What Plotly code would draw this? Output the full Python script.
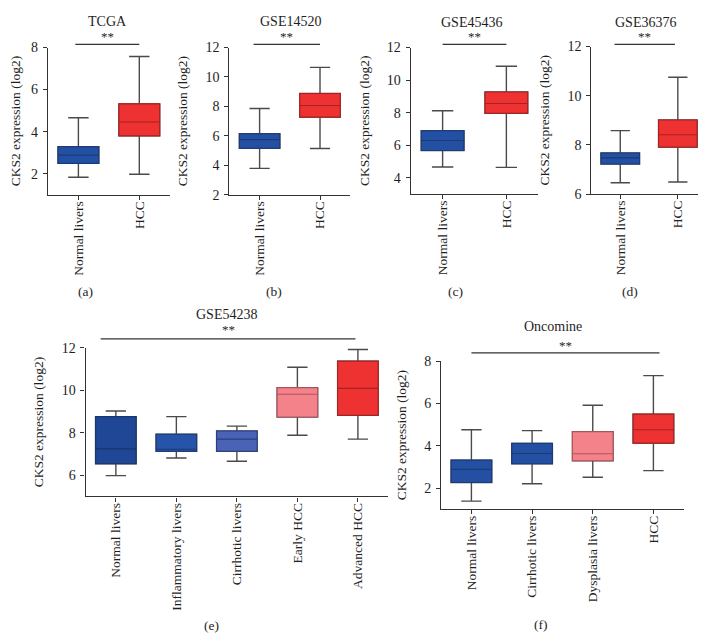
import plotly.graph_objects as go

W, H = 706, 643
FONT = "Liberation Serif"

# ---------------- data ----------------
tcga_groups = ["Normal livers", "HCC"]
tcga_low = [1.83, 1.97]
tcga_q1 = [2.49, 3.80]
tcga_med = [2.88, 4.46]
tcga_q3 = [3.28, 5.32]
tcga_high = [4.66, 7.57]

gse14520_groups = ["Normal livers", "HCC"]
gse14520_low = [3.79, 5.14]
gse14520_q1 = [5.16, 7.27]
gse14520_med = [5.74, 8.06]
gse14520_q3 = [6.14, 8.88]
gse14520_high = [7.86, 10.65]

gse45436_groups = ["Normal livers", "HCC"]
gse45436_low = [4.66, 4.64]
gse45436_q1 = [5.67, 7.96]
gse45436_med = [6.29, 8.56]
gse45436_q3 = [6.89, 9.27]
gse45436_high = [8.12, 10.85]

gse36376_groups = ["Normal livers", "HCC"]
gse36376_low = [6.46, 6.49]
gse36376_q1 = [7.22, 7.91]
gse36376_med = [7.47, 8.41]
gse36376_q3 = [7.67, 9.01]
gse36376_high = [8.58, 10.75]

gse54238_groups = ["Normal livers", "Inflammatory livers", "Cirrhotic livers", "Early HCC", "Advanced HCC"]
gse54238_low = [5.98, 6.81, 6.66, 7.88, 7.70]
gse54238_q1 = [6.54, 7.13, 7.13, 8.74, 8.82]
gse54238_med = [7.24, 7.22, 7.70, 9.81, 10.09]
gse54238_q3 = [8.76, 7.93, 8.08, 10.12, 11.37]
gse54238_high = [9.02, 8.76, 8.31, 11.08, 11.92]

oncomine_groups = ["Normal livers", "Cirrhotic livers", "Dysplasia livers", "HCC"]
oncomine_low = [1.38, 2.20, 2.51, 2.82]
oncomine_q1 = [2.26, 3.15, 3.29, 4.12]
oncomine_med = [2.88, 3.63, 3.62, 4.75]
oncomine_q3 = [3.32, 4.11, 4.66, 5.49]
oncomine_high = [4.75, 4.71, 5.91, 7.31]

titles = ["TCGA", "GSE14520", "GSE45436", "GSE36376", "GSE54238", "Oncomine"]
panel_tags = ["(a)", "(b)", "(c)", "(d)", "(e)", "(f)"]
ytitle = "CKS2 expression (log2)"

# ---------------- styles ----------------
BLUE = ("#2350a3", "#1b3a78")
DBLUE = ("#1f4796", "#183670")
MBLUE = ("#2654a8", "#1b3a78")
LBLUE = ("#4a63b6", "#2c3f80")
RED = ("#ee3131", "#a52222")
PINK = ("#f3828a", "#b35660")
WHISK = "#4a4a4a"
TXT = "#1e1e1e"
FS = 13.5

panels = [
    dict(groups=tcga_groups, lo=tcga_low, q1=tcga_q1, med=tcga_med, q3=tcga_q3, hi=tcga_high,
         colors=[BLUE, RED], xpx=(39, 161), ypx=(33.3, 184), yr=(1, 8), tv=[2, 4, 6, 8],
         sig=(-0.05, 1), sigy=30, stary=22),
    dict(groups=gse14520_groups, lo=gse14520_low, q1=gse14520_q1, med=gse14520_med, q3=gse14520_q3, hi=gse14520_high,
         colors=[BLUE, RED], xpx=(220.7, 341.7), ypx=(33.3, 184), yr=(2, 12), tv=[2, 4, 6, 8, 10, 12],
         sig=(-0.1, 1), sigy=30, stary=22),
    dict(groups=gse45436_groups, lo=gse45436_low, q1=gse45436_q1, med=gse45436_med, q3=gse45436_q3, hi=gse45436_high,
         colors=[BLUE, RED], xpx=(402.3, 530), ypx=(33.3, 183.3), yr=(3, 12), tv=[4, 6, 8, 10, 12],
         sig=(0, 1), sigy=30, stary=22),
    dict(groups=gse36376_groups, lo=gse36376_low, q1=gse36376_q1, med=gse36376_med, q3=gse36376_q3, hi=gse36376_high,
         colors=[BLUE, RED], xpx=(583.3, 698.6), ypx=(32.3, 183.3), yr=(6, 12), tv=[6, 8, 10, 12],
         sig=(-0.1, 0.95), sigy=30, stary=22),
    dict(groups=gse54238_groups, lo=gse54238_low, q1=gse54238_q1, med=gse54238_med, q3=gse54238_q3, hi=gse54238_high,
         colors=[DBLUE, MBLUE, LBLUE, PINK, RED], xpx=(76.7, 379.7), ypx=(340.7, 493), yr=(5, 12),
         tv=[6, 8, 10, 12], sig=(-0.25, 3.96), sigy=331.7, stary=322),
    dict(groups=oncomine_groups, lo=oncomine_low, q1=oncomine_q1, med=oncomine_med, q3=oncomine_q3, hi=oncomine_high,
         colors=[BLUE, BLUE, PINK, RED], xpx=(432.7, 675.7), ypx=(354.3, 506), yr=(1, 8),
         tv=[2, 4, 6, 8], sig=(0, 3.1), sigy=346, stary=338),
]

title_pos = [(99, 7), (282, 7), (463, 8), (637, 8), (218, 307), (545, 319)]
tag_pos = [(77, 283), (265, 283), (447, 283), (622, 283), (203, 625), (533, 624)]


def px_x(v):
    return v / W


def px_y(v):
    return 1 - v / H


fig = go.Figure()
layout = dict(
    width=W, height=H, margin=dict(l=0, r=0, t=0, b=0),
    paper_bgcolor="white", plot_bgcolor="white",
    showlegend=False, boxmode="overlay",
    font=dict(family=FONT, size=FS, color=TXT),
)
shapes = []
annotations = []

for i, p in enumerate(panels):
    n = i + 1
    xa = "x" if n == 1 else f"x{n}"
    ya = "y" if n == 1 else f"y{n}"
    for j, g in enumerate(p["groups"]):
        fill, edge = p["colors"][j]
        # whiskers (grey)
        fig.add_trace(go.Box(
            x=[g], q1=[p["q1"][j]], median=[p["med"][j]], q3=[p["q3"][j]],
            lowerfence=[p["lo"][j]], upperfence=[p["hi"][j]],
            fillcolor=fill, line=dict(color=WHISK, width=1.4), whiskerwidth=0.5,
            width=0.67, boxpoints=False, xaxis=xa, yaxis=ya, hoverinfo="skip"))
        # box body
        fig.add_trace(go.Box(
            x=[g], q1=[p["q1"][j]], median=[p["med"][j]], q3=[p["q3"][j]],
            lowerfence=[p["q1"][j]], upperfence=[p["q3"][j]],
            fillcolor=fill, line=dict(color=edge, width=1.1), whiskerwidth=0,
            width=0.67, boxpoints=False, xaxis=xa, yaxis=ya))
    ng = len(p["groups"])
    layout["xaxis" if n == 1 else f"xaxis{n}"] = dict(
        domain=[px_x(p["xpx"][0]), px_x(p["xpx"][1])], anchor=ya,
        type="category", categoryorder="array", categoryarray=p["groups"],
        range=[-0.5, ng - 0.5], tickangle=-90,
        showline=True, linecolor="#333333", linewidth=1.3,
        ticks="outside", ticklen=4, tickcolor="#333333", tickwidth=1.3,
        showgrid=False, zeroline=False, ticklabelstandoff=-4,
        tickfont=dict(family=FONT, size=FS, color=TXT))
    layout["yaxis" if n == 1 else f"yaxis{n}"] = dict(
        domain=[px_y(p["ypx"][1]), px_y(p["ypx"][0])], anchor=xa,
        range=list(p["yr"]), tickvals=p["tv"],
        showline=True, linecolor="#333333", linewidth=1.3,
        ticks="outside", ticklen=4, tickcolor="#333333", tickwidth=1.3,
        showgrid=False, zeroline=False, ticklabelstandoff=2,
        tickfont=dict(family=FONT, size=14, color=TXT),
        title=dict(text=ytitle, font=dict(family=FONT, size=FS, color=TXT), standoff=14))
    shapes.append(dict(type="line", xref=xa, yref="paper",
                       x0=p["sig"][0], x1=p["sig"][1],
                       y0=px_y(p["sigy"]), y1=px_y(p["sigy"]),
                       line=dict(color="#333333", width=1.3)))
    annotations.append(dict(text="**", xref=xa, yref="paper",
                            x=(p["sig"][0] + p["sig"][1]) / 2, y=px_y(p["stary"]),
                            showarrow=False, font=dict(family=FONT, size=13, color=TXT),
                            xanchor="center", yanchor="middle"))
    tx, ty = title_pos[i]
    annotations.append(dict(text=titles[i], xref="paper", yref="paper", x=px_x(tx), y=px_y(ty),
                            showarrow=False, font=dict(family=FONT, size=14, color=TXT),
                            xanchor="center", yanchor="middle"))
    gx, gy = tag_pos[i]
    annotations.append(dict(text=panel_tags[i], xref="paper", yref="paper", x=px_x(gx), y=px_y(gy),
                            showarrow=False, font=dict(family=FONT, size=FS, color=TXT),
                            xanchor="center", yanchor="middle"))

layout["shapes"] = shapes
layout["annotations"] = annotations
fig.update_layout(**layout)
fig.write_html("out.html")
